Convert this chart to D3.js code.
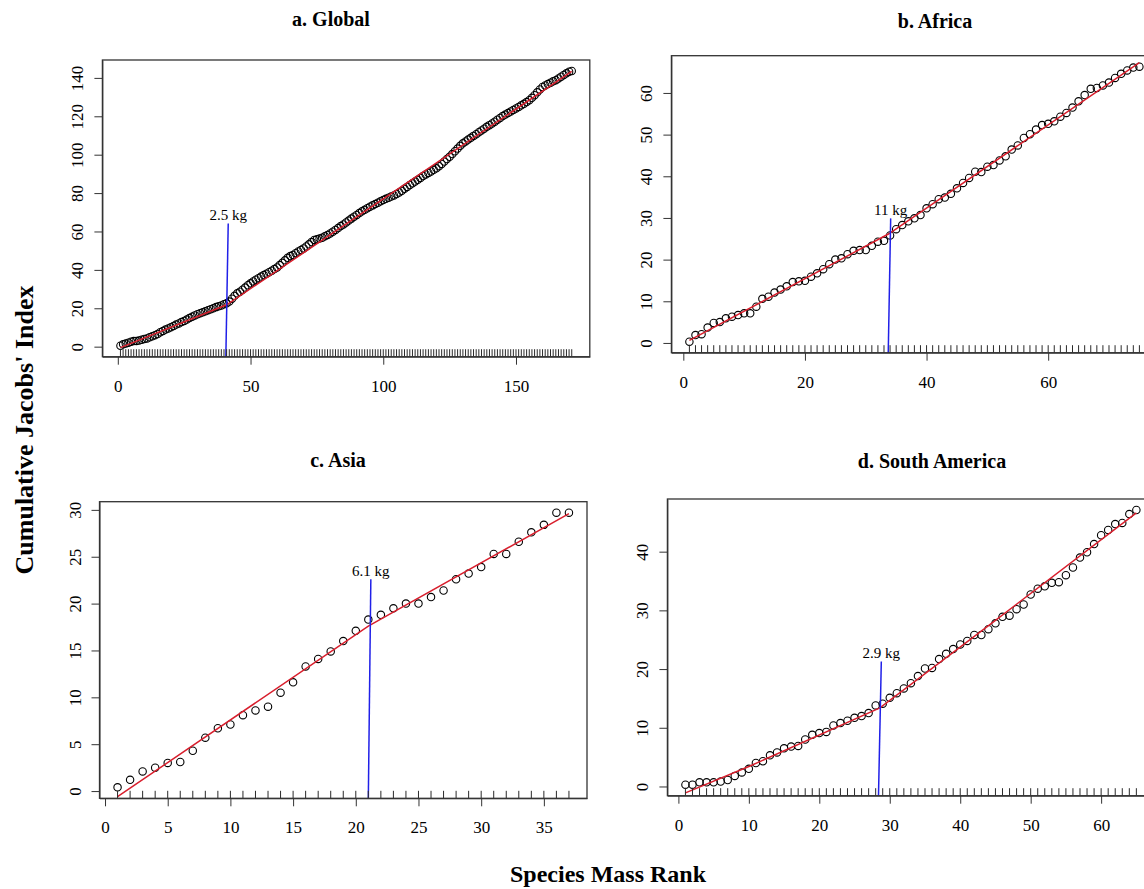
<!DOCTYPE html>
<html>
<head>
<meta charset="utf-8">
<script src="https://cdn.jsdelivr.net/npm/d3@7/dist/d3.min.js"></script>
<style>
  body { margin: 0; background: #fff; overflow: hidden; }
  text { font-family: "Liberation Serif", "Times New Roman", serif; fill: #000; }
</style>
</head>
<body>
<div id="chart"></div>
<script>
// cumulative Jacobs' index by species mass rank
const globalIndex = [
  0.5, 1.2, 1.6, 2.1, 2.6, 2.9, 3.0, 3.2, 3.6, 4.0,
  4.3, 4.9, 5.4, 6.0, 6.6, 7.5, 8.2, 8.9, 9.5, 10.1,
  10.8, 11.5, 12.1, 12.8, 13.4, 14.1, 14.9, 15.6, 16.3, 16.9,
  17.4, 17.9, 18.4, 19.0, 19.5, 20.0, 20.6, 21.0, 21.5, 22.1,
  22.6, 23.5, 25.0, 26.5, 27.8, 28.6, 29.7, 30.8, 32.0, 33.0,
  34.0, 34.9, 35.7, 36.5, 37.3, 38.0, 38.8, 39.6, 40.4, 41.3,
  42.5, 43.7, 45.0, 46.3, 47.2, 47.8, 48.7, 49.6, 50.4, 51.2,
  52.2, 53.3, 54.5, 55.6, 55.9, 56.3, 56.8, 57.5, 58.2, 59.0,
  59.9, 60.8, 61.8, 62.8, 63.7, 64.7, 65.7, 66.7, 67.7, 68.6,
  69.6, 70.5, 71.3, 72.1, 72.9, 73.6, 74.3, 75.0, 75.7, 76.4,
  77.0, 77.6, 78.2, 78.8, 79.5, 80.3, 81.2, 82.2, 83.2, 84.2,
  85.1, 86.0, 86.9, 87.9, 88.9, 89.7, 90.5, 91.3, 92.1, 92.9,
  94.0, 95.2, 96.4, 97.7, 98.9, 100.3, 101.8, 103.2, 104.6, 105.9,
  106.9, 107.9, 108.8, 109.8, 110.7, 111.7, 112.6, 113.5, 114.5, 115.4,
  116.3, 117.2, 118.2, 119.1, 120.1, 120.9, 121.7, 122.5, 123.3, 124.1,
  124.9, 125.7, 126.5, 127.4, 128.4, 129.6, 131.0, 132.5, 134.0, 135.3,
  136.1, 136.8, 137.5, 138.2, 138.8, 139.7, 140.6, 141.5, 142.4, 143.2,
  143.6
];
const africaIndex = [
  0.3, 1.9, 2.1, 3.7, 4.8, 5.0, 5.9, 6.3, 6.7, 7.1,
  7.1, 8.7, 10.6, 11.1, 12.1, 12.8, 13.6, 14.6, 14.8, 14.9,
  15.9, 16.7, 17.7, 18.9, 20.0, 20.3, 21.3, 22.1, 22.3, 22.3,
  23.3, 24.3, 24.5, 25.8, 27.3, 28.3, 29.2, 29.9, 30.7, 32.3,
  33.3, 34.5, 34.9, 35.8, 37.1, 38.4, 39.6, 41.1, 41.0, 42.3,
  42.7, 43.8, 44.8, 46.4, 47.4, 49.2, 50.1, 51.2, 52.3, 52.6,
  53.2, 54.3, 55.2, 56.5, 58.0, 59.5, 61.0, 61.2, 61.8, 62.5,
  63.6, 64.6, 65.4, 66.1, 66.3
];
const asiaIndex = [
  0.4, 1.2, 2.1, 2.5, 3.0, 3.1, 4.3, 5.7, 6.7, 7.1,
  8.1, 8.6, 9.0, 10.5, 11.6, 13.3, 14.1, 14.9, 16.0, 17.1,
  18.3, 18.8, 19.5, 20.0, 20.0, 20.7, 21.4, 22.6, 23.2, 23.9,
  25.3, 25.3, 26.6, 27.6, 28.4, 29.7, 29.7
];
const southAmericaIndex = [
  0.3, 0.3, 0.7, 0.7, 0.7, 0.85, 1.1, 1.8, 2.4, 3.0,
  4.0, 4.3, 5.3, 5.8, 6.5, 6.8, 6.9, 8.0, 8.8, 9.1,
  9.3, 10.4, 10.8, 11.2, 11.7, 12.0, 12.5, 13.8, 14.1, 15.1,
  15.9, 16.7, 17.6, 18.8, 20.1, 20.2, 21.7, 22.6, 23.4, 24.2,
  24.8, 25.8, 25.8, 26.8, 27.8, 28.9, 29.1, 30.2, 31.0, 32.7,
  33.7, 34.1, 34.7, 34.8, 36.0, 37.3, 39.0, 39.9, 41.3, 42.8,
  43.7, 44.7, 44.9, 46.4, 47.1
];

// fitted lines (rank, index)
const globalFit = [[1, -0.5], [41, 21.8], [171, 143.4]];
const africaFit = [[1, 0.6], [33.8, 26.2], [75, 67.3]];
const asiaFit = [[1, -0.6], [21, 17.6], [37, 29.6]];
const southAmericaFit = [[1, -1.1], [10, 3.4], [28.6, 13.4], [45, 28.3], [65, 46.6]];

// breakpoint markers
const breakLabels = ["2.5 kg", "11 kg", "6.1 kg", "2.9 kg"];
const breakBottomX = [40.7, 33.7, 21.0, 28.4];
const breakTopX = [41.6, 34.1, 21.2, 28.8];
const breakTopY = [64.2, 29.9, 22.6, 21.3];

const panelTitles = ["a. Global", "b. Africa", "c. Asia", "d. South America"];
const xTickValues = [
  [0, 50, 100, 150],
  [0, 20, 40, 60],
  [0, 5, 10, 15, 20, 25, 30, 35],
  [0, 10, 20, 30, 40, 50, 60]
];
const yTickValues = [
  [0, 20, 40, 60, 80, 100, 120, 140],
  [0, 10, 20, 30, 40, 50, 60],
  [0, 5, 10, 15, 20, 25, 30],
  [0, 10, 20, 30, 40]
];

const seriesList = [globalIndex, africaIndex, asiaIndex, southAmericaIndex];
const fitList = [globalFit, africaFit, asiaFit, southAmericaFit];

// plot regions in page pixels
const layout = [
  { left: 102.4, top: 60, width: 487.4, height: 296.7, titleX: 331, titleY: 26 },
  { left: 671.4, top: 55.7, width: 486, height: 297, titleX: 935, titleY: 28 },
  { left: 99.5, top: 501.7, width: 487.5, height: 296.6, titleX: 338, titleY: 467 },
  { left: 667.4, top: 499, width: 487, height: 296.7, titleX: 932, titleY: 468 }
];

const svg = d3
  .select("#chart")
  .append("svg")
  .attr("width", 1144)
  .attr("height", 889)
  .style("display", "block");

// R style range padding of 4%
function padded(lo, hi) {
  const r = hi - lo;
  return [lo - 0.04 * r, hi + 0.04 * r];
}

function drawPanel(i) {
  const box = layout[i];
  const values = seriesList[i];
  const data = values.map((v, k) => ({ rank: k + 1, value: v }));
  const n = data.length;

  const x = d3.scaleLinear().domain(padded(1, n)).range([0, box.width]);
  const y = d3
    .scaleLinear()
    .domain(padded(d3.min(values), d3.max(values)))
    .range([box.height, 0]);

  const g = svg.append("g").attr("transform", `translate(${box.left}, ${box.top})`);

  // title
  svg
    .append("text")
    .attr("x", box.titleX)
    .attr("y", box.titleY)
    .attr("text-anchor", "middle")
    .style("font-size", "20px")
    .style("font-weight", "bold")
    .text(panelTitles[i]);

  // points
  g.selectAll("circle")
    .data(data)
    .join("circle")
    .attr("cx", (d) => x(d.rank))
    .attr("cy", (d) => y(d.value))
    .attr("r", 3.7)
    .attr("fill", "none")
    .attr("stroke", "#000")
    .attr("stroke-width", 1.1);

  // fitted line
  g.append("path")
    .datum(fitList[i])
    .attr("fill", "none")
    .attr("stroke", "#d81f2d")
    .attr("stroke-width", 1.5)
    .attr("d", d3.line().x((d) => x(d[0])).y((d) => y(d[1])));

  // breakpoint marker
  g.append("line")
    .attr("x1", x(breakBottomX[i]))
    .attr("y1", y(y.domain()[0]))
    .attr("x2", x(breakTopX[i]))
    .attr("y2", y(breakTopY[i]))
    .attr("stroke", "#2020e8")
    .attr("stroke-width", 1.5);
  g.append("text")
    .attr("x", x(breakTopX[i]))
    .attr("y", y(breakTopY[i]) - 3)
    .attr("text-anchor", "middle")
    .style("font-size", "15px")
    .text(breakLabels[i]);

  // rug along the bottom
  g.selectAll(".rug")
    .data(data)
    .join("line")
    .attr("class", "rug")
    .attr("x1", (d) => x(d.rank))
    .attr("x2", (d) => x(d.rank))
    .attr("y1", box.height)
    .attr("y2", box.height - 7.5)
    .attr("stroke", "#2a2a2a")
    .attr("stroke-width", 1);

  // axes
  const xAxis = g
    .append("g")
    .attr("transform", `translate(0, ${box.height})`)
    .call(d3.axisBottom(x).tickValues(xTickValues[i]).tickSize(8).tickSizeOuter(0).tickFormat(d3.format("d")));
  xAxis.selectAll("text").attr("y", 35).attr("dy", 0).style("font-size", "17px");

  const yAxis = g
    .append("g")
    .call(d3.axisLeft(y).tickValues(yTickValues[i]).tickSize(8).tickSizeOuter(0).tickFormat(d3.format("d")));
  yAxis
    .selectAll("text")
    .attr("transform", "rotate(-90)")
    .attr("x", 0)
    .attr("y", -19)
    .attr("dy", 0)
    .attr("text-anchor", "middle")
    .style("font-size", "17px");

  [xAxis, yAxis].forEach((a) => {
    a.select(".domain").attr("stroke", "#333");
    a.selectAll(".tick line").attr("stroke", "#333");
    a.selectAll("text").attr("fill", "#000").style("font-family", '"Liberation Serif", serif');
  });

  // box
  g.append("rect")
    .attr("width", box.width)
    .attr("height", box.height)
    .attr("fill", "none")
    .attr("stroke", "#333")
    .attr("stroke-width", 1.3);
}

[0, 1, 2, 3].forEach(drawPanel);

// shared axis titles
svg
  .append("text")
  .attr("transform", "translate(33, 430) rotate(-90)")
  .attr("text-anchor", "middle")
  .style("font-size", "26px")
  .style("font-weight", "bold")
  .text("Cumulative Jacobs' Index");

svg
  .append("text")
  .attr("x", 608)
  .attr("y", 882)
  .attr("text-anchor", "middle")
  .style("font-size", "24px")
  .style("font-weight", "bold")
  .text("Species Mass Rank");
</script>
</body>
</html>
